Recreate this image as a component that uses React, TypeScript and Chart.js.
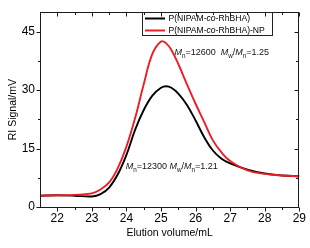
import React, { useEffect, useRef } from "react";
import { Chart, registerables } from "chart.js";

Chart.register(...registerables);

const FONT = '"Liberation Sans", Arial, Helvetica, sans-serif';

const elutionVolume = [21.5, 22, 22.5, 23, 23.25, 23.5, 23.75, 24, 24.25, 24.5, 24.75, 25, 25.15, 25.3, 25.5, 25.75, 26, 26.25, 26.5, 26.75, 27, 27.5, 28, 28.5, 29];
const signalCopolymer = [2.9, 3.0, 2.9, 2.7, 3.3, 5.0, 8.4, 13.4, 19.8, 24.9, 28.6, 30.6, 31.0, 30.6, 29.1, 26.2, 22.2, 17.9, 14.5, 12.4, 11.2, 9.6, 8.6, 8.1, 7.9];
const signalNP = [2.9, 3.0, 3.1, 3.5, 4.5, 6.3, 10.0, 15.5, 22.8, 31.5, 39.3, 42.5, 42.0, 40.3, 36.7, 31.5, 26.5, 21.8, 17.1, 14.0, 11.8, 9.4, 8.5, 8.1, 7.9];

const seriesNames = ["P(NIPAM-co-RhBHA)", "P(NIPAM-co-RhBHA)-NP"];
const seriesColors = ["#000000", "#ee1c24"];

const xTicks = [22, 23, 24, 25, 26, 27, 28, 29];
const xMinorTicks = [22.5, 23.5, 24.5, 25.5, 26.5, 27.5, 28.5];
const yTicks = [0, 15, 30, 45];
const yMinorTicks = [7.5, 22.5, 37.5];

const annotation1 = [
  { t: "M", italic: true }, { t: "n", sub: true }, { t: "=12600  " },
  { t: "M", italic: true }, { t: "w", sub: true }, { t: "/" },
  { t: "M", italic: true }, { t: "n", sub: true }, { t: "=1.25" },
];
const annotation1At = { x: 25.39, y: 39.6 };
const annotation2 = [
  { t: "M", italic: true }, { t: "n", sub: true }, { t: "=12300 " },
  { t: "M", italic: true }, { t: "w", sub: true }, { t: "/" },
  { t: "M", italic: true }, { t: "n", sub: true }, { t: "=1.21" },
];
const annotation2At = { x: 23.98, y: 10.35 };

const legendParts = [
  [{ t: "P(NIPAM-" }, { t: "co", italic: true }, { t: "-RhBHA)" }],
  [{ t: "P(NIPAM-" }, { t: "co", italic: true }, { t: "-RhBHA)-NP" }],
];

type Part = { t: string; italic?: boolean; sub?: boolean };

function drawRich(ctx: CanvasRenderingContext2D, x: number, y: number, parts: Part[], size: number) {
  let cx = x;
  ctx.textBaseline = "middle";
  ctx.textAlign = "left";
  for (const p of parts) {
    const s = p.sub ? size * 0.7 : size;
    ctx.font = `${p.italic ? "italic " : ""}${s}px ${FONT}`;
    ctx.fillText(p.t, cx, y + (p.sub ? size * 0.35 : 0));
    cx += ctx.measureText(p.t).width;
  }
}

const framePlugin = {
  id: "frameTicks",
  afterDraw(chart: any) {
    const { ctx, chartArea: a, scales } = chart;
    const xs = scales.x, ys = scales.y;
    ctx.save();
    ctx.strokeStyle = "#1a1a1a";
    ctx.lineWidth = 1;
    const L = Math.round(a.left) + 0.5;
    const R = Math.round(a.right) - 0.5;
    const T = Math.round(a.top) + 0.5;
    const B = Math.round(a.bottom) + 0.5;
    ctx.strokeRect(L, T, R - L, B - T);
    ctx.beginPath();
    const xt = (v: number, len: number) => {
      const p = Math.round(xs.getPixelForValue(v)) + 0.5;
      ctx.moveTo(p, B); ctx.lineTo(p, B + len);
      ctx.moveTo(p, T); ctx.lineTo(p, T + len);
    };
    const yt = (v: number, len: number) => {
      const p = Math.round(ys.getPixelForValue(v)) + 0.5;
      ctx.moveTo(L, p); ctx.lineTo(L - len, p);
      ctx.moveTo(R, p); ctx.lineTo(R - len, p);
    };
    xTicks.forEach((v) => xt(v, 4));
    xMinorTicks.forEach((v) => xt(v, 2.5));
    yTicks.forEach((v) => yt(v, 4));
    yMinorTicks.forEach((v) => yt(v, 2.5));
    ctx.stroke();

    // legend
    const bx = 142.5, by = 12.5, bw = 130, bh = 23;
    ctx.strokeStyle = "#222";
    ctx.strokeRect(bx, by, bw, bh);
    const rows = [18.5, 30.5];
    ctx.lineWidth = 2;
    [0, 1].forEach((i) => {
      ctx.strokeStyle = seriesColors[i];
      ctx.beginPath();
      ctx.moveTo(145, rows[i]);
      ctx.lineTo(165, rows[i]);
      ctx.stroke();
      ctx.fillStyle = "#000";
      drawRich(ctx, 168.5, rows[i] + 0.5, legendParts[i], 8.6);
    });

    ctx.fillStyle = "#111";
    drawRich(ctx, xs.getPixelForValue(annotation1At.x), ys.getPixelForValue(annotation1At.y), annotation1, 9);
    drawRich(ctx, xs.getPixelForValue(annotation2At.x), ys.getPixelForValue(annotation2At.y), annotation2, 9);
    ctx.restore();
  },
};

export default function App() {
  const ref = useRef<HTMLCanvasElement>(null);
  useEffect(() => {
    document.body.style.margin = "0";
    const toPts = (ys: number[]) => elutionVolume.map((x, i) => ({ x, y: ys[i] }));
    const chart = new Chart(ref.current as HTMLCanvasElement, {
      type: "line",
      data: {
        datasets: [
          {
            label: seriesNames[1],
            data: toPts(signalNP),
            borderColor: seriesColors[1],
            borderWidth: 1.9,
            pointRadius: 0,
            tension: 0.4,
            fill: false,
          },
          {
            label: seriesNames[0],
            data: toPts(signalCopolymer),
            borderColor: seriesColors[0],
            borderWidth: 1.9,
            pointRadius: 0,
            tension: 0.4,
            fill: false,
          },
        ],
      },
      options: {
        animation: false,
        responsive: false,
        devicePixelRatio: 1,
        layout: { padding: { top: 9, right: 10, left: 0, bottom: 0 } },
        plugins: { legend: { display: false }, tooltip: { enabled: false } },
        scales: {
          x: {
            type: "linear",
            min: 21.5,
            max: 29,
            afterBuildTicks: (s: any) => { s.ticks = xTicks.map((v) => ({ value: v })); },
            afterFit: (s: any) => { s.height = 41; },
            grid: { display: false, drawTicks: false },
            border: { display: false },
            ticks: { padding: 4, color: "#000", font: { family: FONT, size: 12 }, callback: (v: any) => String(v) },
            title: { display: true, text: "Elution volume/mL", color: "#000", font: { family: FONT, size: 10.5 }, padding: { top: 0, bottom: 8.7 } },
          },
          y: {
            type: "linear",
            min: 0,
            max: 50,
            afterBuildTicks: (s: any) => { s.ticks = yTicks.map((v) => ({ value: v })); },
            afterFit: (s: any) => { s.width = 40; },
            grid: { display: false, drawTicks: false },
            border: { display: false },
            ticks: { padding: 5, color: "#000", font: { family: FONT, size: 12 }, callback: (v: any) => String(v) },
            title: { display: true, text: "RI Signal/mV", color: "#000", font: { family: FONT, size: 10.5 }, padding: { top: 6.7, bottom: 0 } },
          },
        },
      },
      plugins: [framePlugin],
    } as any);
    return () => chart.destroy();
  }, []);
  return (
    <div style={{ width: 310, height: 248 }}>
      <canvas ref={ref} width={310} height={248} style={{ display: "block" }} />
    </div>
  );
}
